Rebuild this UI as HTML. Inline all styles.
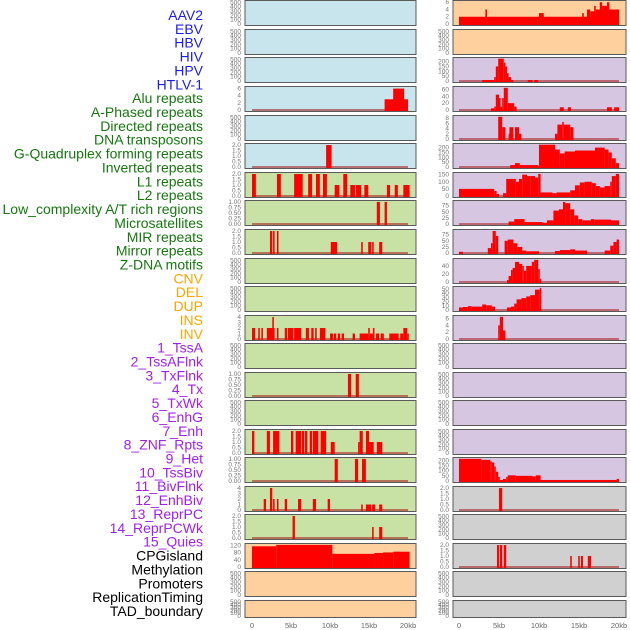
<!DOCTYPE html>
<html><head><meta charset="utf-8">
<style>
body{margin:0;background:#fff;width:630px;height:630px;overflow:hidden;font-family:"Liberation Sans",sans-serif;}
svg{display:block}
</style></head>
<body>
<svg id="chart" width="630" height="630" xmlns="http://www.w3.org/2000/svg"></svg>
<script>
// ---- data (kb start, kb end, value) ----
const labelNames = ["AAV2","EBV","HBV","HIV","HPV","HTLV-1","Alu repeats","A-Phased repeats","Directed repeats","DNA transposons","G-Quadruplex forming repeats","Inverted repeats","L1 repeats","L2 repeats","Low_complexity A/T rich regions","Microsatellites","MIR repeats","Mirror repeats","Z-DNA motifs","CNV","DEL","DUP","INS","INV","1_TssA","2_TssAFlnk","3_TxFlnk","4_Tx","5_TxWk","6_EnhG","7_Enh","8_ZNF_Rpts","9_Het","10_TssBiv","11_BivFlnk","12_EnhBiv","13_ReprPC","14_ReprPCWk","15_Quies","CPGisland","Methylation","Promoters","ReplicationTiming","TAD_boundary"];
const labelGroups = ["b","b","b","b","b","b","g","g","g","g","g","g","g","g","g","g","g","g","g","o","o","o","o","o","p","p","p","p","p","p","p","p","p","p","p","p","p","p","p","k","k","k","k","k"];
const xTicksKb = [0,5,10,15,20];
const xTickLabels = ["0","5kb","10kb","15kb","20kb"];

const leftAlu = [[17,20,3],[18.1,19.5,6]];
const leftGquad = [[9.5,10.2,2]];
const leftL1 = [[0,0.5,2],[3.2,3.7,2],[5.4,6.5,2],[7.2,7.7,2],[8.2,8.7,2],[9.1,9.6,2],[11.7,12.2,2],[10.6,11.2,1],[12.6,13.2,1],[13.3,14,1],[14.4,14.9,1],[17.3,17.7,1],[18.3,18.7,1],[19.4,20.2,1]];
const leftLowcx = [[16,16.4,1],[17,17.3,1]];
const leftMir = [[2.3,2.6,2],[2.7,2.9,2],[3.2,3.4,2],[10.1,10.9,1],[14,14.2,1],[14.9,15.3,1],[15.4,15.6,1],[16.3,16.7,1]];
const leftInv = [[0,0.4,2],[0.8,1.0,2],[1.2,1.4,2],[1.9,2.9,2],[2.6,2.8,4],[3.2,3.4,2],[4.2,4.5,2],[4.6,5.3,2],[5.4,6.3,2],[6.9,7.3,2],[7.6,7.9,2],[8.1,8.3,2],[8.7,9.4,2],[10,10.4,1],[10.5,10.8,1],[11,11.3,1],[11.5,11.8,1],[12.9,13.2,1],[13.8,14.9,1],[14.9,15.1,2],[15.1,15.5,1],[15.5,15.7,2],[15.9,16.3,1],[16.5,16.9,1],[17.6,18.8,1],[19,19.4,1],[19.4,19.9,2],[19.9,20.1,1]];
const leftTxflnk = [[12.3,12.7,1],[13.3,13.7,1]];
const leftEnh = [[0,0.3,2],[1.9,2.3,2],[2.7,3.5,2],[5,5.3,2],[5.6,6.3,2],[6.4,6.7,2],[6.8,7.1,2],[7.4,7.7,2],[7.8,8.5,2],[8.8,9.5,2],[10.1,10.6,1],[13.6,13.8,1],[13.8,14.2,2],[14.6,15,2],[15,15.6,1],[16,16.7,1]];
const leftZnf = [[10.6,11,1],[13.2,13.6,1],[14.1,14.6,1]];
const leftHet = [[1.5,1.8,2],[2.3,2.6,4],[2.7,2.9,2],[3.2,3.4,2],[4.2,4.5,2],[5.9,6.3,2],[7.8,8.2,2],[9.7,10,2],[14,14.2,1],[14.6,15.3,1],[15.4,15.8,1],[16.3,16.7,1]];
const leftTssbiv = [[5.2,5.5,2],[15.4,15.6,1],[16.3,16.7,1]];
const leftCpg = [[0,3.1,115],[3.1,10.3,123],[10.3,15.7,73],[15.7,16.8,78],[16.8,18.1,81],[18.1,20.2,85]];

const rightAav2 = [[0,20,2],[3.3,3.5,4],[10,10.6,3],[15.4,15.6,3],[16,16.4,4],[16.4,17.1,3.5],[16.9,17.1,5],[17.1,20,4],[17.6,17.9,6],[17.9,18.5,5],[18.5,18.8,6]];
const rightHiv = [[2.9,4.4,10],[4.4,4.6,40],[4.6,4.9,150],[4.9,5.6,230],[5.6,5.8,190],[5.8,6.0,150],[6.0,6.2,80],[6.2,6.5,40],[6.5,6.8,10],[8.6,9.2,10],[9.4,9.9,10]];
const rightHpv = [[4,4.4,5],[4.4,4.6,10],[4.6,5,45],[5,5.2,35],[5.2,5.4,10],[5.4,5.6,35],[5.6,6.1,65],[6.1,6.9,20],[6.9,7.2,10],[12.6,13.1,8],[13.6,14,8],[18.5,19.1,8],[19.4,20,8]];
const rightHtlv = [[4.9,5.4,8.5],[5.4,5.8,4.5],[6.2,6.8,2],[6.3,6.8,4.5],[7,7.5,4.5],[7.5,7.8,2],[12,12.3,2],[12.3,12.9,5.5],[12.9,13.1,6.5],[13.1,13.9,5.5],[13.9,14.3,4.5]];
const rightAlu = [[6.4,7,20],[7,7.6,40],[7.6,9.9,20],[9.9,10,10],[10,12,230],[12,12.6,180],[12.6,13.2,140],[13.2,14.5,160],[14.5,17,170],[17,18.2,200],[18.2,18.7,180],[18.7,19.1,150],[19.1,19.6,90],[19.6,20,40]];
const rightAphased = [[0,4.4,50],[4.4,4.7,35],[4.7,5,15],[5.5,5.9,20],[5.9,7.1,120],[7.1,7.5,100],[7.5,7.9,120],[7.9,8.5,150],[8.5,8.9,140],[8.9,9.5,140],[9.5,9.9,130],[9.9,10.2,155],[10.2,11.7,25],[11.7,12.2,20],[12.2,13.9,25],[13.9,14.5,40],[14.5,15.1,75],[15.1,15.7,95],[15.7,16.6,100],[16.6,17.1,90],[17.1,17.6,70],[17.6,18.2,60],[18.2,18.9,70],[18.9,19.1,100],[19.1,19.6,140],[19.6,20,155]];
const rightDirected = [[6.2,6.9,10],[6.9,8.2,20],[8.2,10.4,8],[10.4,11,5],[11,11.8,15],[11.8,12.5,55],[12.5,13,60],[13,13.3,90],[13.3,13.9,85],[13.9,14.4,60],[14.4,14.9,35],[14.9,15.4,20],[15.4,16.5,15],[16.5,16.9,20],[16.9,19,18],[19,20,15]];
const rightDna = [[0,0.5,5],[3.6,4,20],[4,4.2,40],[4.2,4.6,90],[4.6,4.9,70],[5.7,6.1,50],[6.1,6.8,55],[6.8,7.3,40],[7.3,7.9,25],[7.9,8.4,10],[8.4,10,7],[12,12.6,8],[12.6,13.9,12],[13.9,14.5,15],[14.5,16,10],[18.2,18.9,10],[18.9,19.3,30],[19.3,19.7,45],[19.7,20,55]];
const rightGquad = [[6,6.2,5],[6.2,6.5,15],[6.5,6.7,30],[6.7,7,35],[7,7.5,50],[7.5,7.9,45],[7.9,8.1,40],[8.1,8.4,28],[8.4,9.1,40],[9.1,9.4,50],[9.4,9.9,55],[9.9,10.1,32],[10.1,10.2,8]];
const rightInverted = [[0,0.5,6],[0.5,1.1,7],[1.1,1.6,9],[1.6,2.9,8],[2.9,3.4,13],[3.4,4.1,11],[4.1,4.5,8],[6,6.5,6],[6.5,6.9,8],[6.9,7.2,15],[7.2,7.8,25],[7.8,8.4,28],[8.4,8.9,32],[8.9,9.5,35],[9.5,10.1,48],[10.1,10.2,52]];
const rightL1 = [[4.9,5.1,4],[5.1,5.5,6.5],[5.5,5.8,2.5]];
const rightHet = [[0,2.8,215],[2.8,3.9,205],[3.9,4.1,190],[4.1,4.4,180],[4.4,4.6,140],[4.6,4.9,90],[4.9,5.1,40],[5.1,5.5,10],[5.5,5.9,20],[5.9,6.1,40],[6.1,7.1,55],[7.1,9.2,50],[9.2,9.6,45],[9.6,10.2,55],[10.2,19.7,10],[19.7,20,20]];
const rightBivflnk = [[5,5.4,2]];
const rightCpg = [[4.75,5,2],[5.1,5.4,2],[5.6,5.9,2],[13.9,14.1,1],[14.9,15.1,1],[15.25,15.5,1],[16.1,16.5,1]];

const ticksEmpty = [0,100,200,300,400,500];
const ticks2 = [0,0.5,1,1.5,2];
const ticks1 = [0,0.25,0.5,0.75,1];
const ticks4 = [0,1,2,3,4];
const ticks6 = [0,2,4,6];
const ticks8 = [0,2,4,6,8];
const ticks200 = [0,50,100,150,200];
const ticks150 = [0,50,100,150];
const ticks75 = [0,25,50,75];
const ticks40 = [0,20,40];
const ticks50 = [0,10,20,30,40,50];
const ticks60 = [0,20,40,60];
const ticks120 = [0,40,80,120];

const S = "http://www.w3.org/2000/svg";
const svg = document.getElementById("chart");
function el(tag, attrs, parent){const e=document.createElementNS(S,tag);for(const k in attrs)e.setAttribute(k,attrs[k]);(parent||svg).appendChild(e);return e;}

// labels
const gcol={b:"#1c1cf0",g:"#16780f",o:"#ffa500",p:"#a020f0",k:"#000"};
labelNames.forEach((n,i)=>{
  const t=el("text",{x:203,y:20+i*13.86,"text-anchor":"end","font-size":"14",fill:gcol[labelGroups[i]]});
  t.textContent=n;
  
  
});

const rowTops=[0,29,57,86,115,143,172,200,229,258,286,315,343,372,400,429,457,486,514,543,571,600];
const BG={b:"#c8e4ec",g:"#c8e1a4",o:"#fed09e",p:"#d6c6e2",k:"#d0d0d0"};
const leftBg="bbbbbbgggggggggggggooo", rightBg="oopppppppppppppppkkkkk";
const leftPanels={3:[leftAlu,6.3,ticks6],5:[leftGquad,2.05,ticks2],6:[leftL1,2.05,ticks2],7:[leftLowcx,1.02,ticks1],8:[leftMir,2.05,ticks2],11:[leftInv,4.1,ticks4],13:[leftTxflnk,1.02,ticks1],15:[leftEnh,2.05,ticks2],16:[leftZnf,1.02,ticks1],17:[leftHet,4.1,ticks4],18:[leftTssbiv,2.05,ticks2],19:[leftCpg,125,ticks120]};
const rightPanels={0:[rightAav2,6.2,ticks6],2:[rightHiv,232,ticks200],3:[rightHpv,66,ticks60],4:[rightHtlv,8.6,ticks8],5:[rightAlu,232,ticks200],6:[rightAphased,158,ticks150],7:[rightDirected,92,ticks75],8:[rightDna,92,ticks75],9:[rightGquad,56,ticks40],10:[rightInverted,53,ticks50],11:[rightL1,6.6,ticks6],16:[rightHet,218,ticks200],17:[rightBivflnk,2.05,ticks2],19:[rightCpg,2.05,ticks2]};

function fmt(t,ticks){const mx=ticks[ticks.length-1];if(mx===1)return t.toFixed(2);if(mx===2)return t.toFixed(1);return String(t);}

function drawCol(side,x0,w,kb0,perKb,bgStr,panels){
  rowTops.forEach((top,r)=>{
    const h = r===21?17:25;
    const g=el("g",{});
    
    
    const bg=el("rect",{x:x0,y:top+0.5,width:w,height:h,fill:BG[bgStr[r]],stroke:"#5a5a5a","stroke-width":1},g);
    
    
    const p=panels[r];
    const ymax=p?p[1]:520, ticks=p?p[2]:ticksEmpty;
    const yS=v=>top+h-1-(v/ymax)*(h-2.5);
    const xS=k=>kb0+k*perKb;
    ticks.forEach(t=>{
      const tt=el("text",{x:x0-4,y:yS(t)+2,"text-anchor":"end","font-size":"6.5",fill:"#777"},g);
      tt.textContent=fmt(t,ticks);
      
      
    });
    if(p){
      const bl=el("line",{x1:xS(0),x2:xS(20),y1:yS(0),y2:yS(0),stroke:"rgba(170,40,40,0.6)","stroke-width":2},g);
      
      
      p[0].forEach(s=>{
        const y=Math.max(yS(s[2]),top+1);
        const b=el("rect",{x:xS(s[0]),y:y,width:Math.max(xS(s[1])-xS(s[0]),1.5),height:yS(0)+1-y,fill:"#ff0000"},g);
        
        
      });
    }
  });
  xTicksKb.forEach((k,i)=>{
    const t=el("text",{x:kb0+k*perKb,y:628,"text-anchor":"middle","font-size":"7.5",fill:"#666"});
    t.textContent=xTickLabels[i];
    
    
  });
}
drawCol("left",245,171,252,7.8,leftBg,leftPanels);
drawCol("right",453,173,459,8.0,rightBg,rightPanels);
</script>
</body></html>
